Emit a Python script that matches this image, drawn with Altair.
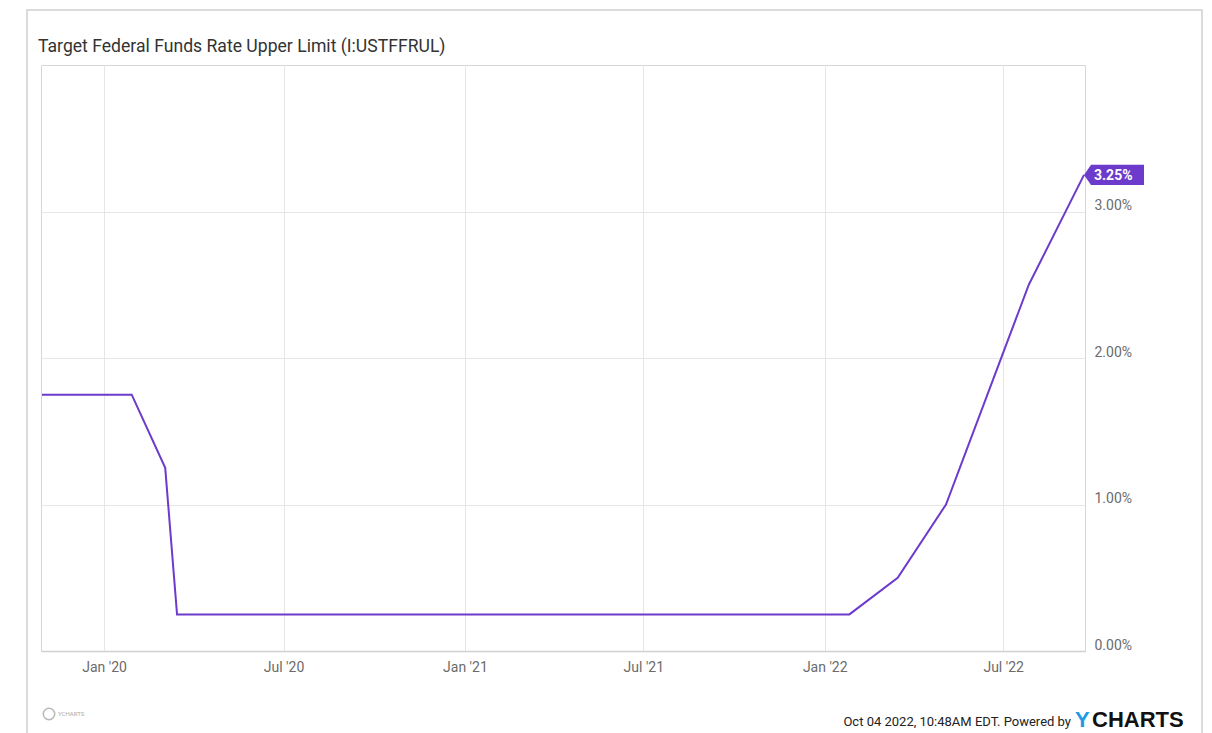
import altair as alt
import pandas as pd

# ---- data (FOMC decision dates, upper limit of target range, %) ----
dates = [
    "2019-10-30", "2019-12-11", "2020-01-29", "2020-03-03", "2020-03-15",
    "2020-04-29", "2020-06-10", "2020-07-29", "2020-09-16", "2020-11-05",
    "2020-12-16", "2021-01-27", "2021-03-17", "2021-04-28", "2021-06-16",
    "2021-07-28", "2021-09-22", "2021-11-03", "2021-12-15", "2022-01-26",
    "2022-03-16", "2022-05-04", "2022-06-15", "2022-07-27", "2022-09-21",
]
rates = [
    1.75, 1.75, 1.75, 1.25, 0.25,
    0.25, 0.25, 0.25, 0.25, 0.25,
    0.25, 0.25, 0.25, 0.25, 0.25,
    0.25, 0.25, 0.25, 0.25, 0.25,
    0.50, 1.00, 1.75, 2.50, 3.25,
]
x_domain = ["2019-10-29", "2022-09-22"]
x_ticks = ["2020-01-01", "2020-07-01", "2021-01-01", "2021-07-01", "2022-01-01", "2022-07-01"]
y_ticks = [0, 1, 2, 3]
title_text = "Target Federal Funds Rate Upper Limit (I:USTFFRUL)"
footer_text = "Oct 04 2022, 10:48AM EDT.  Powered by"

PURPLE = "#6c3bcb"
FONT = "Roboto"

df = pd.DataFrame({"date": pd.to_datetime(dates), "rate": rates})
last = df.tail(1).copy()
last["label"] = last["rate"].map(lambda v: f"{v:.2f}%")

x_enc = alt.X(
    "date:T",
    scale=alt.Scale(domain=[pd.Timestamp(d).isoformat() for d in x_domain], nice=False),
    axis=alt.Axis(
        values=[pd.Timestamp(d).isoformat() for d in x_ticks],
        labelExpr="timeFormat(datum.value, \"%b '%y\")",
        title=None, ticks=False, labelPadding=9, labelFontSize=14,
        labelColor="#6b6b6b", labelFont=FONT, gridColor="#e6e6e6",
        domainColor="#d0d0d0", domainWidth=1.5,
    ),
)
y_enc = alt.Y(
    "rate:Q",
    scale=alt.Scale(domain=[0, 4], nice=False, zero=True),
    axis=alt.Axis(
        orient="right", values=y_ticks,
        labelExpr="format(datum.value, '.2f') + '%'",
        title=None, ticks=False, domain=False, labelPadding=9,
        labelAlign="left", labelBaseline="alphabetic", labelOffset=-2,
        labelFontSize=14, labelColor="#6b6b6b", labelFont=FONT,
        gridColor="#e6e6e6",
    ),
)

line = alt.Chart(df).mark_line(color=PURPLE, strokeWidth=2).encode(x=x_enc, y=y_enc)

tag_shape = "M0,0L0.117,-0.167L1,-0.167L1,0.167L0.117,0.167Z"
tag = alt.Chart(last).mark_point(
    shape=tag_shape, size=14400, filled=True, color=PURPLE, opacity=1, strokeWidth=0
).encode(x="date:T", y="rate:Q")
tag_text = alt.Chart(last).mark_text(
    align="left", baseline="middle", dx=10, dy=1, color="white",
    fontWeight="bold", fontSize=14, font=FONT
).encode(x="date:T", y="rate:Q", text="label:N")

one = pd.DataFrame({"k": [0]})

border = alt.Chart(one).mark_rect(
    fill=None, stroke="#d0d0d0", strokeWidth=1.5
).encode(x=alt.value(-14), x2=alt.value(1161), y=alt.value(-55), y2=alt.value(720))

title = alt.Chart(pd.DataFrame({"t": [title_text]})).mark_text(
    align="left", baseline="alphabetic", fontSize=17.6, font=FONT, color="#333333"
).encode(x=alt.value(-3), y=alt.value(-13), text="t:N")

footer = alt.Chart(pd.DataFrame({"t": [footer_text]})).mark_text(
    align="right", baseline="alphabetic", fontSize=13, font=FONT, color="#222222"
).encode(x=alt.value(1030), y=alt.value(661), text="t:N")

logo_y = alt.Chart(pd.DataFrame({"t": ["Y"]})).mark_text(
    align="left", baseline="alphabetic", fontSize=22, font="Liberation Sans",
    fontWeight="bold", color="#1e9be6"
).encode(x=alt.value(1034), y=alt.value(662), text="t:N")

logo_c = alt.Chart(pd.DataFrame({"t": ["CHARTS"]})).mark_text(
    align="left", baseline="alphabetic", fontSize=22, font="Liberation Sans",
    fontWeight="bold", color="#111111"
).encode(x=alt.value(1051), y=alt.value(662), text="t:N")

seal = alt.Chart(one).mark_point(
    shape="circle", size=130, filled=False, color="#9a9a9a", strokeWidth=1.5
).encode(x=alt.value(8), y=alt.value(649))

seal_text = alt.Chart(pd.DataFrame({"t": ["YCHARTS"]})).mark_text(
    align="left", baseline="middle", fontSize=6, font=FONT, color="#aaaaaa"
).encode(x=alt.value(17), y=alt.value(649), text="t:N")

chart = alt.layer(
    border, line, tag, tag_text, title, footer, logo_y, logo_c, seal, seal_text
).properties(
    width=1044, height=586,
    autosize=alt.AutoSizeParams(type="none"),
    padding={"left": 41, "top": 65, "right": 127, "bottom": 82},
    background="white",
).configure_view(stroke="#d6d6d6", strokeWidth=1)

chart.save("out.html", embed_options={"renderer": "svg", "actions": False})
